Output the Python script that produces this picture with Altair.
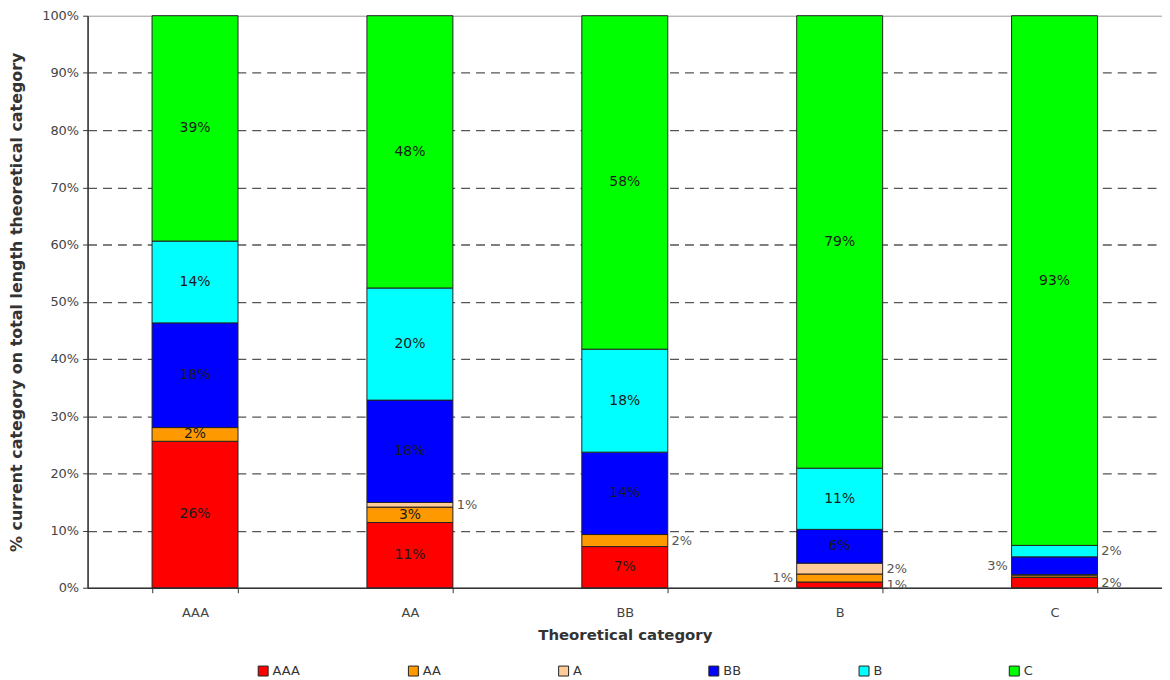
import altair as alt
import pandas as pd

categories = ["AAA", "AA", "BB", "B", "C"]
series = ["AAA", "AA", "A", "BB", "B", "C"]
colors = ["#FF0000", "#FF9900", "#FFCC99", "#0000FF", "#00FFFF", "#00FF00"]

# share (%) of each current category (series) within each theoretical category
v_AAA = [25.6, 11.4, 7.2, 1.0, 1.8]
v_AA = [2.4, 2.7, 2.1, 1.4, 0.3]
v_A = [0.0, 0.8, 0.0, 1.9, 0.2]
v_BB = [18.3, 17.9, 14.4, 5.9, 3.1]
v_B = [14.3, 19.6, 18.0, 10.7, 2.0]
v_C = [39.4, 47.6, 58.3, 79.1, 92.6]

# label placement per segment: c = inside, l = left of bar, r = right of bar, "" = none
lab_AAA = ["c", "c", "c", "r", "r"]
lab_AA = ["c", "c", "r", "l", ""]
lab_A = ["", "r", "", "r", ""]
lab_BB = ["c", "c", "c", "c", "l"]
lab_B = ["c", "c", "c", "c", "r"]
lab_C = ["c", "c", "c", "c", "c"]

values = [v_AAA, v_AA, v_A, v_BB, v_B, v_C]
labels = [lab_AAA, lab_AA, lab_A, lab_BB, lab_B, lab_C]

rows = []
for ci, cat in enumerate(categories):
    base = 0.0
    for si, s in enumerate(series):
        v = values[si][ci]
        if v > 0:
            rows.append({
                "cat": cat, "series": s, "order": si,
                "y0": base / 100, "y1": (base + v) / 100,
                "mid": (base + v / 2) / 100,
                "text": f"{int(v + 0.5)}%",
                "side": labels[si][ci],
            })
        base += v
df = pd.DataFrame(rows)

FONT = "DejaVu Sans"

x_enc = alt.X("cat:N", sort=categories,
              scale=alt.Scale(paddingInner=0.6, paddingOuter=0.3),
              axis=alt.Axis(title="Theoretical category", tickBand="extent",
                            labelAngle=0, labelFont=FONT, labelFontSize=13,
                            labelColor="#444", labelPadding=14, tickSize=5,
                            tickColor="#333", domainColor="#333", domainWidth=1.5,
                            titleFont=FONT, titleFontSize=15, titleFontWeight="bold",
                            titleColor="#333", titlePadding=8, grid=False))

y_scale = alt.Scale(domain=[0, 1], nice=False)

bars = alt.Chart(df).mark_bar(stroke="#222", strokeWidth=1).encode(
    x=x_enc,
    y=alt.Y("y0:Q", scale=y_scale,
            axis=alt.Axis(title="% current category on total length theoretical category",
                          format=".0%", values=[i / 10 for i in range(11)],
                          labelFont=FONT, labelFontSize=13, labelColor="#444",
                          tickSize=5, tickColor="#333", domainColor="#333",
                          domainWidth=1.5, labelPadding=4,
                          titleFont=FONT, titleFontSize=16, titleFontWeight="bold",
                          titleColor="#333", titlePadding=17,
                          grid=True, gridColor="#555", gridDash=[9, 6], gridWidth=1.3,
                          gridOpacity={"condition": {"test": "datum.value >= 1 || datum.value <= 0", "value": 0}, "value": 1})),
    y2="y1:Q",
    color=alt.Color("series:N", sort=series,
                    scale=alt.Scale(domain=series, range=colors),
                    legend=alt.Legend(title=None, orient="none", legendX=170, legendY=652,
                                      direction="horizontal", columns=6, gridAlign="all",
                                      columnPadding=106, symbolType="square", symbolSize=100,
                                      symbolStrokeColor="#222", symbolStrokeWidth=1,
                                      labelFont=FONT, labelFontSize=13, labelColor="#333",
                                      labelOffset=3)),
)

def text_layer(side, align, dx, color, size):
    return alt.Chart(df).transform_filter(alt.datum.side == side).mark_text(
        align=align, baseline="middle", dx=dx, font=FONT, fontSize=size, color=color
    ).encode(
        x=alt.X("cat:N", sort=categories),
        y=alt.Y("mid:Q", scale=y_scale),
        text="text:N",
    )

chart = alt.layer(
    bars,
    text_layer("c", "center", 0, "#1a1a1a", 14),
    text_layer("r", "left", 47, "#555", 13),
    text_layer("l", "right", -47, "#555", 13),
).properties(
    width=1080, height=575,
    autosize=alt.AutoSizeParams(type="none"),
    padding={"left": 80, "top": 6, "right": 0, "bottom": 92},
).configure_view(stroke="#999", strokeWidth=1)

chart.save("out.html", embed_options={"renderer": "svg", "actions": False})
